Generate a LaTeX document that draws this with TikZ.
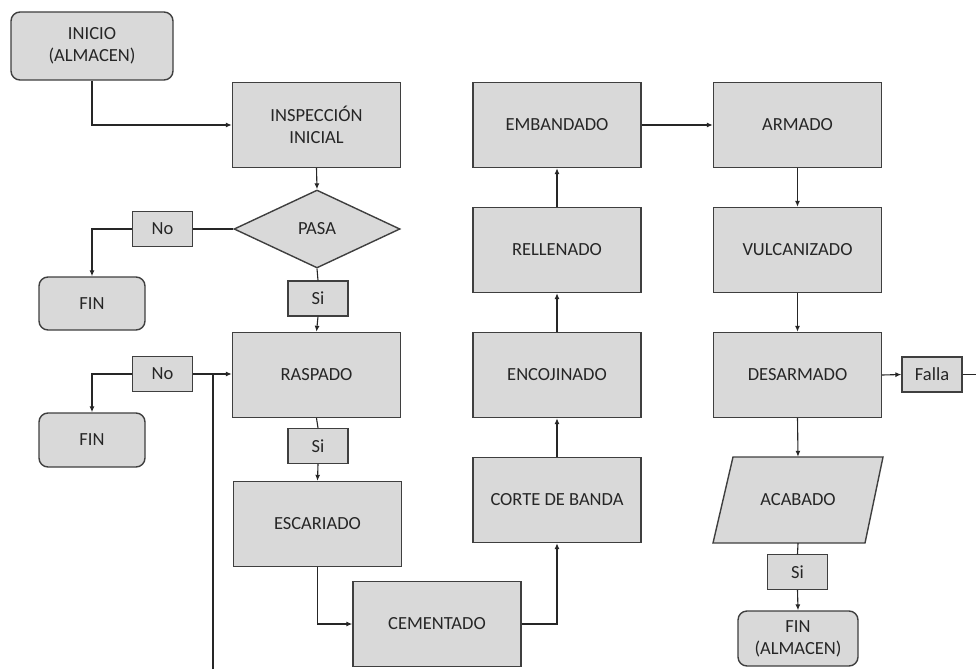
\documentclass[tikz,border=0pt]{standalone}
\usepackage{fontspec}
\setmainfont{Carlito}
\usetikzlibrary{shapes.geometric,arrows.meta,calc}
\definecolor{boxfill}{HTML}{D9D9D9}
\definecolor{boxline}{HTML}{3F3F3F}
\definecolor{txt}{HTML}{262626}
\begin{document}
\begin{tikzpicture}[x=1pt,y=-1pt,
  every node/.style={font=\fontsize{18.5}{22}\selectfont, text=txt, align=center},
  procbox/.style={draw=boxline, fill=boxfill, line width=1.4pt, minimum width=168pt, minimum height=85pt, inner sep=2pt},
  termbox/.style={draw=boxline, fill=boxfill, line width=1.4pt, rounded corners=9pt, inner sep=2pt},
  labbox/.style={draw=boxline, fill=boxfill, line width=1.2pt, minimum width=60pt, minimum height=35pt, inner sep=1pt},
  decbox/.style={draw=boxline, fill=boxfill, line width=1.4pt, diamond, minimum width=166pt, minimum height=78pt, inner sep=0pt},
  conn/.style={draw=black!85, line width=1.1pt},
  arr/.style={conn, -{Latex[length=6pt,width=5pt]}}
]
\useasboundingbox (0,0) rectangle (976,669);
% nodes
\node[termbox, minimum width=162pt, minimum height=68pt] (ini) at (92,46) {INICIO\\(ALMACEN)};
\node[procbox] (insp) at (316.5,125) {INSPECCIÓN\\INICIAL};
\node[decbox] (pasa) at (317,229) {PASA};
\node[labbox] (no1) at (162.5,229) {No};
\node[termbox, minimum width=106pt, minimum height=53pt] (fin1) at (92,303.5) {FIN};
\node[labbox] (si1) at (318,298.5) {Si};
\node[procbox] (rasp) at (316.5,375) {RASPADO};
\node[labbox] (no2) at (162.5,374) {No};
\node[termbox, minimum width=106pt, minimum height=54pt] (fin2) at (92,440) {FIN};
\node[labbox] (si2) at (318,446) {Si};
\node[procbox] (esca) at (317.5,524) {ESCARIADO};
\node[procbox] (ceme) at (437,624) {CEMENTADO};
\node[procbox] (corte) at (557,500) {CORTE DE BANDA};
\node[procbox] (enco) at (557,375) {ENCOJINADO};
\node[procbox] (rell) at (557,250) {RELLENADO};
\node[procbox] (emba) at (557,125) {EMBANDADO};
\node[procbox] (arma) at (797.5,125) {ARMADO};
\node[procbox] (vulc) at (797.5,250) {VULCANIZADO};
\node[procbox] (desa) at (797.5,375) {DESARMADO};
\node[labbox] (falla) at (932,374.5) {Falla};
\draw[draw=boxline, fill=boxfill, line width=1.4pt] (733,457) -- (883,457) -- (865,543) -- (713,543) -- cycle;
\node[minimum width=170pt, minimum height=86pt, inner sep=0pt] (acab) at (798,500) {ACABADO};
\node[labbox] (si3) at (797.5,572) {Si};
\node[termbox, minimum width=120pt, minimum height=55pt] (fin3) at (798,638.5) {FIN\\(ALMACEN)};
% free ends
\coordinate (loopbot) at (213,669);
\coordinate (loopj) at (213,374);
\coordinate (fallaout) at (976,374.5);
% connectors
\draw[arr] (ini.south) |- (insp.west);
\draw[arr] (insp.south) -- (pasa.north);
\draw[conn] (pasa.west) -- (no1.east);
\draw[arr] (no1.west) -| (fin1.north);
\draw[conn] (pasa.south) -- (si1.north);
\draw[arr] (si1.south) -- (rasp.north);
\draw[arr] (no2.east) -- (no2.east -| rasp.west);
\draw[arr] (no2.west) -| (fin2.north);
\draw[conn] (loopbot) -- (loopj);
\draw[conn] (rasp.south) -- (si2.north);
\draw[arr] (si2.south) -- (esca.north);
\draw[arr] (esca.south) |- (ceme.west);
\draw[arr] (ceme.east) -| (corte.south);
\draw[arr] (corte.north) -- (enco.south);
\draw[arr] (enco.north) -- (rell.south);
\draw[arr] (rell.north) -- (emba.south);
\draw[arr] (emba.east) -- (arma.west);
\draw[arr] (arma.south) -- (vulc.north);
\draw[arr] (vulc.south) -- (desa.north);
\draw[arr] (desa.east) -- (falla.west);
\draw[conn] (falla.east) -- (fallaout);
\draw[arr] (desa.south) -- (acab.north);
\draw[conn] (acab.south) -- (si3.north);
\draw[arr] (si3.south) -- (fin3.north);
\end{tikzpicture}
\end{document}
